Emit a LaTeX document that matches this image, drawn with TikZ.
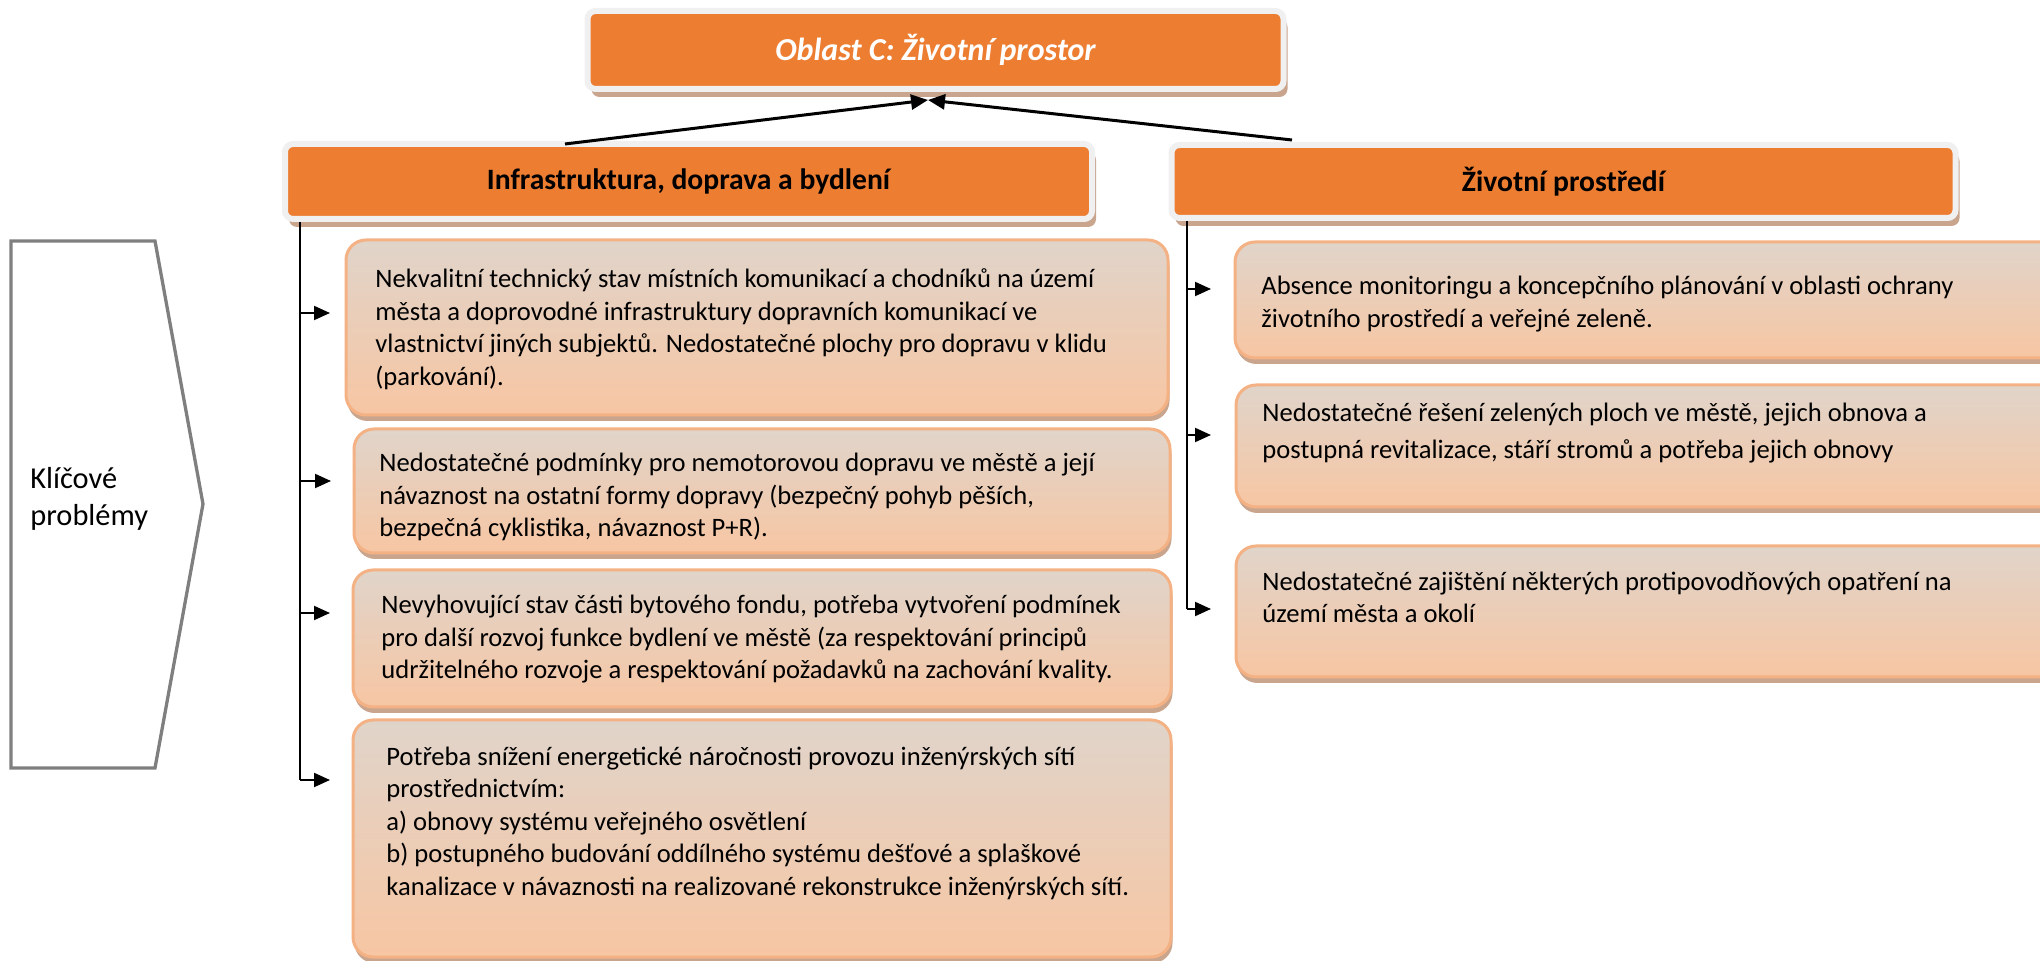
\documentclass[tikz,border=0pt]{standalone}
\usepackage{fontspec}
\setmainfont{Carlito}
\usetikzlibrary{arrows.meta,shadows}

\definecolor{hdrorange}{HTML}{ED7D31}
\definecolor{hdrrim}{HTML}{F0F0F0}
\definecolor{hdrshadow}{HTML}{C9A58E}
\definecolor{boxrim}{HTML}{F4B183}
\definecolor{boxtop}{HTML}{E0D4CA}
\definecolor{boxbot}{HTML}{F7C6A3}
\definecolor{boxshadow}{HTML}{C9A58E}
\definecolor{chevgray}{HTML}{7F7F7F}

\newcommand{\probfont}{\fontsize{13.3}{16.25}\selectfont}

\tikzset{
  headbox/.style={draw=hdrrim, line width=3pt, fill=hdrorange, rounded corners=4pt, inner sep=0pt,
    drop shadow={shadow xshift=2pt, shadow yshift=-4pt, fill=hdrshadow, opacity=1}},
  probbox/.style={draw=boxrim, line width=1.5pt, top color=boxtop, bottom color=boxbot,
    rounded corners=10pt, inner sep=0pt,
    drop shadow={shadow xshift=0.75pt, shadow yshift=-3pt, fill=boxshadow, opacity=1}},
  probtext/.style={anchor=base west, inner sep=0pt, align=left, font=\probfont},
  trunk/.style={line width=1pt},
  branch/.style={line width=1pt, -{Triangle[length=8pt,width=7pt]}},
  uplink/.style={line width=1.5pt, -{Triangle[length=8.5pt,width=7.5pt]}}
}

\begin{document}
\begin{tikzpicture}[x=0.5pt, y=-0.5pt]
    \useasboundingbox (0,0) rectangle (2040,961);
    \clip (0,0) rectangle (2040,961);

    % Title and area headers
    \node[headbox, minimum width=348pt, minimum height=39pt, text=white,
          font=\fontsize{16}{18}\selectfont\bfseries\itshape] (title) at (935.5,50) {Oblast C: Životní prostor};
    \node[headbox, minimum width=403.5pt, minimum height=37.5pt,
          font=\fontsize{14.8}{17}\selectfont\bfseries] (infra) at (688.5,181.5) {Infrastruktura, doprava a bydlení};
    \node[headbox, minimum width=392pt, minimum height=36.5pt,
          font=\fontsize{14.8}{17}\selectfont\bfseries] (env) at (1563.5,181.5) {Životní prostředí};

    % Links up to the title
    \draw[uplink] ([xshift=-61.75pt,yshift=-1.5pt]infra.north) -- ([xshift=-3.75pt,yshift=-4pt]title.south);
    \draw[uplink] ([xshift=-135.75pt,yshift=1pt]env.north) -- ([xshift=-3.75pt,yshift=-4pt]title.south);

    % Key problems chevron
    \draw[draw=chevgray, line width=1.65pt] (11,241) -- (155,241) -- (203,504) -- (155,768) -- (11,768) -- cycle;
    \node[anchor=base west, inner sep=0pt, align=left, font=\fontsize{15.2}{18.5}\selectfont] (key) at (30,526) {Klíčové\\problémy};

    % Problem boxes -- left column
    \node[probbox, minimum width=411pt, minimum height=87.5pt] (inf1) at (757,327.5) {};
    \node[probbox, minimum width=408pt, minimum height=62pt] (inf2) at (762,491) {};
    \node[probbox, minimum width=409pt, minimum height=68.5pt] (inf3) at (762,638.5) {};
    \node[probbox, minimum width=409pt, minimum height=118.5pt] (inf4) at (762,838.5) {};

    % Problem boxes -- right column
    \node[probbox, minimum width=422.5pt, minimum height=58pt] (env1) at (1657.5,300) {};
    \node[probbox, minimum width=422pt, minimum height=61pt] (env2) at (1658,446) {};
    \node[probbox, minimum width=422pt, minimum height=65.5pt] (env3) at (1658,611.5) {};

    % Box texts (anchored at the baseline of the last line)
    \node[probtext] (inf1txt) at (375,385.5) {Nekvalitní technický stav místních komunikací a chodníků na území\\města a doprovodné infrastruktury dopravních komunikací ve\\vlastnictví jiných subjektů. Nedostatečné plochy pro dopravu v klidu\\(parkování).};
    \node[probtext] (inf2txt) at (379,537) {Nedostatečné podmínky pro nemotorovou dopravu ve městě a její\\návaznost na ostatní formy dopravy (bezpečný pohyb pěších,\\bezpečná cyklistika, návaznost P+R).};
    \node[probtext] (inf3txt) at (381,679) {Nevyhovující stav části bytového fondu, potřeba vytvoření podmínek\\pro další rozvoj funkce bydlení ve městě (za respektování principů\\udržitelného rozvoje a respektování požadavků na zachování kvality.};
    \node[probtext] (inf4txt) at (386,895) {Potřeba snížení energetické náročnosti provozu inženýrských sítí\\prostřednictvím:\\a) obnovy systému veřejného osvětlení\\b) postupného budování oddílného systému dešťové a splaškové\\kanalizace v návaznosti na realizované rekonstrukce inženýrských sítí.};
    \node[probtext] (env1txt) at (1261,327.5) {Absence monitoringu a koncepčního plánování v oblasti ochrany\\životního prostředí a veřejné zeleně.};
    \node[probtext] (env2txt) at (1262,458.5) {Nedostatečné řešení zelených ploch ve městě, jejich obnova a\\[2pt]postupná revitalizace, stáří stromů a potřeba jejich obnovy};
    \node[probtext] (env3txt) at (1262,623) {Nedostatečné zajištění některých protipovodňových opatření na\\území města a okolí};

    % Trunk lines
    \coordinate (infEnd) at (300,780);
    \coordinate (envEnd) at (1187,609);
    \draw[trunk] ([xshift=-194.25pt]infra.south) -- (infEnd);
    \draw[trunk] ([xshift=-188.25pt]env.south) -- (envEnd);

    % Branch arrows
    \coordinate (i1) at (300,313);
    \coordinate (i2) at (300,481);
    \coordinate (i3) at (300,613);
    \draw[branch, shorten >=7.25pt] (i1) -- (inf1.west |- i1);
    \draw[branch, shorten >=10.75pt] (i2) -- (inf2.west |- i2);
    \draw[branch, shorten >=10.75pt] (i3) -- (inf3.west |- i3);
    \draw[branch, shorten >=10.75pt] (infEnd) -- (inf4.west |- infEnd);

    \coordinate (e1) at (1187,289);
    \coordinate (e2) at (1187,435);
    \draw[branch, shorten >=11.25pt] (e1) -- (env1.west |- e1);
    \draw[branch, shorten >=11.75pt] (e2) -- (env2.west |- e2);
    \draw[branch, shorten >=11.75pt] (envEnd) -- (env3.west |- envEnd);
\end{tikzpicture}
\end{document}
